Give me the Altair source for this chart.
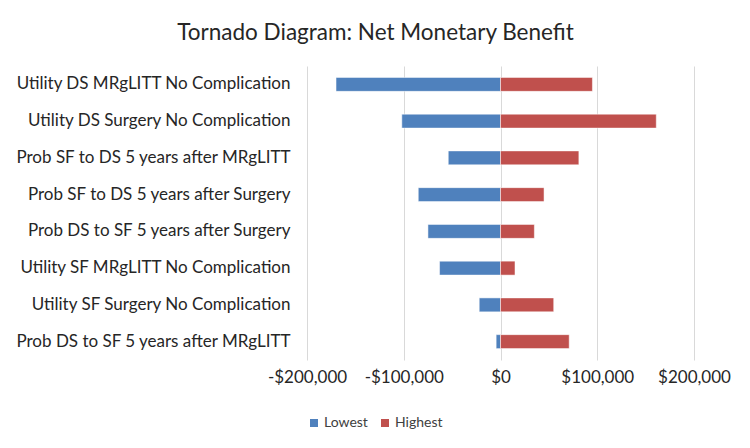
import altair as alt
import pandas as pd

categories = [
    "Utility DS MRgLITT No Complication",
    "Utility DS Surgery No Complication",
    "Prob SF to DS 5 years after MRgLITT",
    "Prob SF to DS 5 years after Surgery",
    "Prob DS to SF 5 years after Surgery",
    "Utility SF MRgLITT No Complication",
    "Utility SF Surgery No Complication",
    "Prob DS to SF 5 years after MRgLITT",
]
lowest = [-170000, -102000, -54000, -85000, -75000, -63000, -22000, -4500]
highest = [95000, 161000, 81000, 45000, 35000, 15000, 55000, 71000]
series = ["Lowest", "Highest"]
colors = ["#4F81BD", "#C0504D"]
x_ticks = [-200000, -100000, 0, 100000, 200000]

rows = []
for c, lo, hi in zip(categories, lowest, highest):
    rows.append({"Parameter": c, "Series": "Lowest", "Value": lo})
    rows.append({"Parameter": c, "Series": "Highest", "Value": hi})
df = pd.DataFrame(rows)

font = "Lato"
text_color = "#262626"

chart = alt.Chart(df).mark_bar(stroke="white", strokeWidth=0.5).encode(
    y=alt.Y("Parameter:N", sort=categories, title=None,
            scale=alt.Scale(paddingInner=0.62, paddingOuter=0.31),
            axis=alt.Axis(labelFontSize=17, labelColor=text_color, labelFont=font,
                          labelPadding=17, ticks=False, domain=False, labelLimit=400)),
    x=alt.X("Value:Q", title=None,
            scale=alt.Scale(domain=[-200000, 200000], nice=False),
            axis=alt.Axis(values=x_ticks, labelExpr="datum.value < 0 ? '-$' + format(-datum.value, ',') : '$' + format(datum.value, ',')",
                          labelFontSize=17, labelColor=text_color, labelFont=font,
                          labelPadding=9, ticks=False, domain=False, labelOverlap=False,
                          labelBound=False, labelFlush=False,
                          grid=True, gridColor="#d9d9d9", gridWidth=1)),
    color=alt.Color("Series:N", sort=series,
                    scale=alt.Scale(domain=series, range=colors),
                    legend=alt.Legend(title=None, orient="none", direction="horizontal",
                                      legendX=0, legendY=350, symbolType="square",
                                      symbolSize=64, symbolStrokeWidth=0,
                                      labelFontSize=14, labelColor="#404040", labelFont=font,
                                      columnPadding=10, labelOffset=3)),
).properties(
    width=387,
    height=294,
    title=alt.TitleParams("Tornado Diagram: Net Monetary Benefit", fontSize=22.5,
                          font=font, fontWeight="normal", color=text_color,
                          anchor="middle", dx=-125, offset=22),
    autosize=alt.AutoSizeParams(type="none"),
    padding={"left": 299, "top": 58, "right": 40, "bottom": 80},
).configure_view(stroke=None)

chart.save("out.html", embed_options={"renderer": "svg", "actions": False})
